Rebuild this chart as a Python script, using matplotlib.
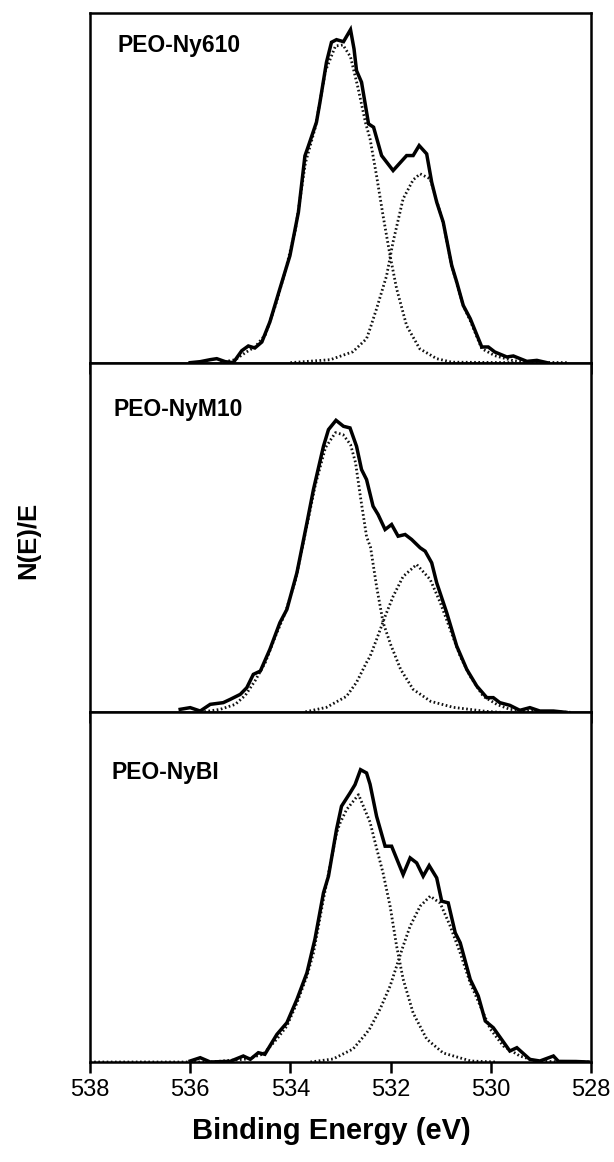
import matplotlib
matplotlib.use("Agg")
import matplotlib.pyplot as plt

plt.rcParams['font.family'] = ['Liberation Sans', 'DejaVu Sans']

# ---------------- data ----------------
sample_names = ["PEO-Ny610", "PEO-NyM10", "PEO-NyBI"]
x_ticks = [538, 536, 534, 532, 530, 528]
x_label = "Binding Energy (eV)"
y_label = "N(E)/E"

# Panel 1: PEO-Ny610
e_raw_1 = [536.0, 535.8, 535.6, 535.47, 535.3, 535.14, 534.97, 534.84, 534.71, 534.57,
           534.41, 534.21, 534.01, 533.84, 533.71, 533.64, 533.48, 533.41, 533.28, 533.18,
           533.08, 532.94, 532.80, 532.73, 532.68, 532.58, 532.44, 532.34, 532.18, 531.95,
           531.68, 531.55, 531.43, 531.28, 531.18, 531.08, 530.95, 530.78, 530.68, 530.55,
           530.41, 530.18, 530.05, 529.92, 529.68, 529.55, 529.28, 529.08, 528.88]
i_raw_1 = [0, 1, 3, 4, 1, 0, 12, 16.7, 14.7, 20.7,
           40.7, 74, 107, 150.7, 207, 217, 240.7, 260.7, 300.7, 320.7,
           323.3, 321.3, 333.3, 314, 292.3, 280.7, 239, 235.7, 207.3, 192.3,
           207.3, 207.3, 217.3, 209, 180.7, 160.7, 140.7, 97.3, 80.7, 57.3,
           44, 15.7, 15.7, 10.7, 5.7, 6.7, 1.3, 2.3, 0]
e_fitA_1 = [535.4, 535.1, 534.9, 534.7, 534.5, 534.3, 534.1, 533.9, 533.7, 533.5,
            533.3, 533.1, 532.95, 532.8, 532.65, 532.5, 532.41, 532.28, 532.15, 532.01,
            531.88, 531.68, 531.42, 531.08, 530.78, 529.5]
i_fitA_1 = [0, 3, 10, 16, 28, 57, 92, 133, 200, 236,
            292, 317, 318, 306, 275, 240, 224, 187, 147, 107,
            74, 37, 14, 4, 0.5, 0]
e_fitB_1 = [534.0, 533.2, 532.75, 532.48, 532.41, 532.28, 532.08, 531.95, 531.75, 531.55,
            531.41, 531.21, 530.95, 530.78, 530.55, 530.41, 530.18, 529.92, 529.55, 529.28,
            528.45]
i_fitB_1 = [0, 3, 11, 24, 34, 54, 87, 121, 164, 183,
            189, 184, 140, 97, 57, 42, 14, 7, 2, 0.5,
            0]

# Panel 2: PEO-NyM10
e_raw_2 = [536.2, 536.0, 535.8, 535.6, 535.34, 535.2, 535.0, 534.87, 534.74, 534.6,
           534.41, 534.21, 534.07, 533.87, 533.67, 533.54, 533.34, 533.24, 533.09, 532.94,
           532.81, 532.68, 532.58, 532.48, 532.35, 532.25, 532.11, 531.98, 531.85, 531.71,
           531.58, 531.41, 531.31, 531.18, 531.08, 530.88, 530.68, 530.48, 530.28, 530.08,
           529.95, 529.82, 529.62, 529.42, 529.22, 529.02, 528.75, 528.5]
i_raw_2 = [3, 4.7, 1.3, 8, 9.7, 13, 18, 24.7, 38, 41.3,
           63, 89.7, 103, 139.7, 189.7, 223, 266.3, 283, 292.3, 286.3,
           284.7, 266.3, 243, 233, 206.3, 198, 183, 188, 176.3, 178,
           173, 164.7, 161.3, 149.7, 129.7, 99.7, 66.3, 43, 26.3, 14.7,
           14.7, 9.7, 7, 2, 4.7, 1.3, 1.3, 0]
e_fitA_2 = [535.8, 535.4, 535.1, 534.9, 534.7, 534.5, 534.3, 534.1, 533.9, 533.7,
            533.5, 533.3, 533.1, 532.95, 532.8, 532.7, 532.6, 532.48, 532.4, 532.28,
            532.15, 532.0, 531.8, 531.55, 531.2, 530.75, 530.1, 529.8]
i_fitA_2 = [0, 3, 8, 17, 32, 50, 76, 100, 132, 180,
            228, 265, 280, 278, 268, 250, 215, 176, 165, 126,
            90, 68, 43, 23, 11, 5, 1, 0]
e_fitB_2 = [533.7, 533.28, 532.88, 532.68, 532.48, 532.41, 532.28, 532.11, 531.95, 531.75,
            531.48, 531.21, 531.01, 530.81, 530.61, 530.41, 530.15, 529.88, 529.62, 529.2,
            528.4]
i_fitB_2 = [0.5, 5, 16, 30, 50, 56, 73, 96, 116, 136,
            148, 133, 110, 83, 56, 36, 16, 8, 3, 1,
            0]

# Panel 3: PEO-NyBI
e_raw_3 = [536.0, 535.8, 535.6, 535.2, 534.94, 534.8, 534.64, 534.51, 534.27, 534.07,
           533.87, 533.67, 533.51, 533.34, 533.24, 533.08, 532.98, 532.81, 532.71, 532.60,
           532.48, 532.41, 532.28, 532.11, 531.98, 531.75, 531.61, 531.48, 531.35, 531.23,
           531.08, 530.98, 530.85, 530.71, 530.61, 530.41, 530.25, 530.11, 529.95, 529.62,
           529.48, 529.22, 529.02, 528.75, 528.65, 528.3, 528.05]
i_raw_3 = [1, 4.3, 0, 0.7, 6, 2.7, 9.3, 7.7, 27.6, 39.3,
           62.6, 89.3, 123, 169.3, 186, 232.6, 256, 269.3, 277.6, 292.6,
           289.3, 278, 246, 216, 216, 187.6, 204.3, 199.3, 186, 196.6,
           184.3, 161, 159.3, 129.3, 119.3, 82.6, 66, 41, 34.3, 11,
           14.3, 2.6, 1, 6, 0.6, 0.5, 0]
e_fitA_3 = [538.0, 535.6, 534.87, 534.54, 534.27, 534.07, 533.87, 533.67, 533.54, 533.34,
            533.08, 533.01, 532.88, 532.64, 532.41, 532.28, 532.15, 532.01, 531.88, 531.75,
            531.55, 531.28, 530.95, 530.4, 529.9]
i_fitA_3 = [0, 0, 3, 8, 23, 36, 59, 86, 109, 163,
            229, 239, 252.6, 267.6, 240, 214, 189, 156, 116, 83,
            49, 23, 9, 1, 0]
e_fitB_3 = [533.6, 533.15, 532.75, 532.48, 532.41, 532.21, 532.01, 531.88, 531.75, 531.61,
            531.41, 531.21, 531.01, 530.81, 530.61, 530.41, 530.21, 530.01, 529.75, 529.42,
            529.1, 528.5, 528.0]
i_fitB_3 = [0, 3, 13, 29, 34, 53, 76, 96, 116, 136,
            156, 166, 159, 136, 109, 79, 56, 33, 16, 6,
            1, 0, 0]

raw_e = [e_raw_1, e_raw_2, e_raw_3]
raw_i = [i_raw_1, i_raw_2, i_raw_3]
fitA_e = [e_fitA_1, e_fitA_2, e_fitA_3]
fitA_i = [i_fitA_1, i_fitA_2, i_fitA_3]
fitB_e = [e_fitB_1, e_fitB_2, e_fitB_3]
fitB_i = [i_fitB_1, i_fitB_2, i_fitB_3]

# ---------------- figure ----------------
fig = plt.figure(figsize=(6.14, 11.62), dpi=100)
gs = fig.add_gridspec(3, 1, left=90/614, right=591/614, top=1-13/1162,
                      bottom=1-1062/1162, hspace=0)

label_xy = [(0.054, 0.889), (0.046, 0.848), (0.042, 0.808)]
dot_style = (0, (0.6, 0.9))

for k in range(3):
    ax = fig.add_subplot(gs[k])
    ax.plot(fitA_e[k], fitA_i[k], color='#111111', lw=2.0,
            linestyle=dot_style, zorder=2)
    ax.plot(fitB_e[k], fitB_i[k], color='#111111', lw=2.0,
            linestyle=dot_style, zorder=2)
    ax.plot(raw_e[k], raw_i[k], color='black', lw=2.5, zorder=3,
            solid_joinstyle='miter')
    ax.set_xlim(538, 528)
    ax.set_ylim(0, 350)
    ax.set_yticks([])
    ax.set_xticks(x_ticks)
    ax.tick_params(axis='x', direction='out', length=8, width=1.8,
                   labelsize=17, pad=4, colors='black')
    if k < 2:
        ax.tick_params(axis='x', labelbottom=False)
    for s in ax.spines.values():
        s.set_linewidth(1.8)
    ax.text(label_xy[k][0], label_xy[k][1], sample_names[k], transform=ax.transAxes,
            fontsize=16.5, fontweight='bold', ha='left', va='baseline')

fig.text(0.046, 1 - 540/1162, y_label, rotation=90, fontsize=18.5, fontweight='bold',
         ha='center', va='center')
fig.text(0.54, 1 - 1131/1162, x_label, fontsize=21, fontweight='bold',
         ha='center', va='center')

fig.savefig("out.png", dpi=100)
